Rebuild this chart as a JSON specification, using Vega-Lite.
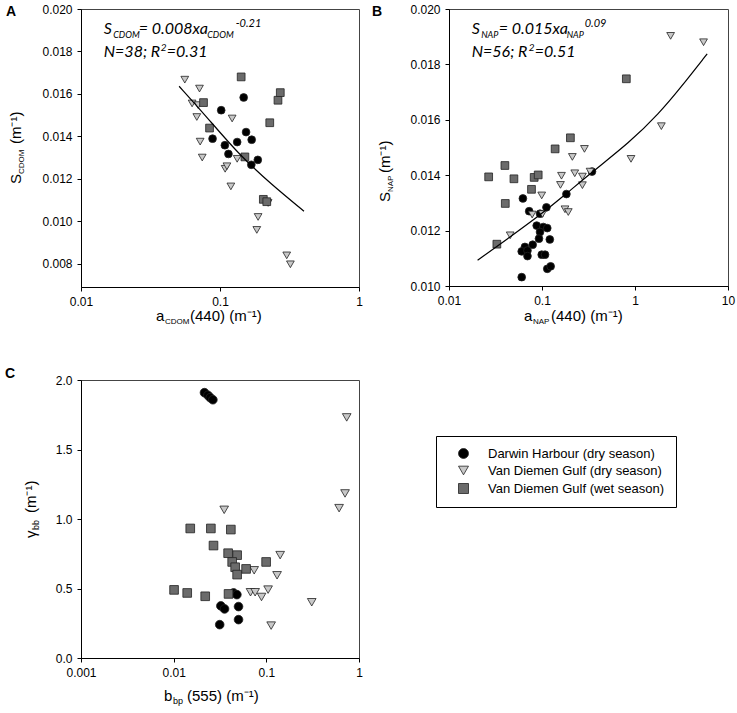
{
  "$schema": "https://vega.github.io/schema/vega-lite/v6.json",
  "background": "white",
  "padding": {"left": 4, "top": 2, "right": 0, "bottom": 0},
  "spacing": 39,
  "datasets": {
    "a": [
      {"x": 0.102, "y": 0.01523, "site": "Darwin Harbour (dry season)"},
      {"x": 0.148, "y": 0.01583, "site": "Darwin Harbour (dry season)"},
      {"x": 0.0884, "y": 0.01389, "site": "Darwin Harbour (dry season)"},
      {"x": 0.1084, "y": 0.01358, "site": "Darwin Harbour (dry season)"},
      {"x": 0.115, "y": 0.01317, "site": "Darwin Harbour (dry season)"},
      {"x": 0.1329, "y": 0.01373, "site": "Darwin Harbour (dry season)"},
      {"x": 0.154, "y": 0.0142, "site": "Darwin Harbour (dry season)"},
      {"x": 0.169, "y": 0.01384, "site": "Darwin Harbour (dry season)"},
      {"x": 0.168, "y": 0.01266, "site": "Darwin Harbour (dry season)"},
      {"x": 0.187, "y": 0.01289, "site": "Darwin Harbour (dry season)"},
      {"x": 0.0558, "y": 0.01667, "site": "Van Diemen Gulf (dry season)"},
      {"x": 0.0712, "y": 0.01625, "site": "Van Diemen Gulf (dry season)"},
      {"x": 0.063, "y": 0.01555, "site": "Van Diemen Gulf (dry season)"},
      {"x": 0.0697, "y": 0.01547, "site": "Van Diemen Gulf (dry season)"},
      {"x": 0.0681, "y": 0.01491, "site": "Van Diemen Gulf (dry season)"},
      {"x": 0.072, "y": 0.01375, "site": "Van Diemen Gulf (dry season)"},
      {"x": 0.0745, "y": 0.013, "site": "Van Diemen Gulf (dry season)"},
      {"x": 0.1223, "y": 0.01484, "site": "Van Diemen Gulf (dry season)"},
      {"x": 0.1089, "y": 0.01247, "site": "Van Diemen Gulf (dry season)"},
      {"x": 0.1122, "y": 0.01259, "site": "Van Diemen Gulf (dry season)"},
      {"x": 0.1197, "y": 0.01164, "site": "Van Diemen Gulf (dry season)"},
      {"x": 0.1329, "y": 0.01294, "site": "Van Diemen Gulf (dry season)"},
      {"x": 0.188, "y": 0.0102, "site": "Van Diemen Gulf (dry season)"},
      {"x": 0.184, "y": 0.00959, "site": "Van Diemen Gulf (dry season)"},
      {"x": 0.222, "y": 0.01086, "site": "Van Diemen Gulf (dry season)"},
      {"x": 0.302, "y": 0.00839, "site": "Van Diemen Gulf (dry season)"},
      {"x": 0.321, "y": 0.00797, "site": "Van Diemen Gulf (dry season)"},
      {"x": 0.142, "y": 0.0168, "site": "Van Diemen Gulf (wet season)"},
      {"x": 0.0761, "y": 0.01559, "site": "Van Diemen Gulf (wet season)"},
      {"x": 0.0841, "y": 0.01439, "site": "Van Diemen Gulf (wet season)"},
      {"x": 0.151, "y": 0.01303, "site": "Van Diemen Gulf (wet season)"},
      {"x": 0.205, "y": 0.01103, "site": "Van Diemen Gulf (wet season)"},
      {"x": 0.217, "y": 0.01092, "site": "Van Diemen Gulf (wet season)"},
      {"x": 0.228, "y": 0.01464, "site": "Van Diemen Gulf (wet season)"},
      {"x": 0.2613, "y": 0.0157, "site": "Van Diemen Gulf (wet season)"},
      {"x": 0.2715, "y": 0.01606, "site": "Van Diemen Gulf (wet season)"}
    ],
    "fitA": [
      {"x": 0.0508, "y": 0.01636},
      {"x": 0.0782, "y": 0.0150},
      {"x": 0.1358, "y": 0.01316},
      {"x": 0.2355, "y": 0.01172},
      {"x": 0.402, "y": 0.01047}
    ],
    "b": [
      {"x": 0.0623, "y": 0.01316, "site": "Darwin Harbour (dry season)"},
      {"x": 0.0728, "y": 0.0127, "site": "Darwin Harbour (dry season)"},
      {"x": 0.0952, "y": 0.01261, "site": "Darwin Harbour (dry season)"},
      {"x": 0.1116, "y": 0.01284, "site": "Darwin Harbour (dry season)"},
      {"x": 0.183, "y": 0.01332, "site": "Darwin Harbour (dry season)"},
      {"x": 0.345, "y": 0.01413, "site": "Darwin Harbour (dry season)"},
      {"x": 0.0877, "y": 0.01218, "site": "Darwin Harbour (dry season)"},
      {"x": 0.1034, "y": 0.01213, "site": "Darwin Harbour (dry season)"},
      {"x": 0.1139, "y": 0.01209, "site": "Darwin Harbour (dry season)"},
      {"x": 0.0952, "y": 0.01195, "site": "Darwin Harbour (dry season)"},
      {"x": 0.0928, "y": 0.01171, "site": "Darwin Harbour (dry season)"},
      {"x": 0.0794, "y": 0.01149, "site": "Darwin Harbour (dry season)"},
      {"x": 0.0655, "y": 0.01141, "site": "Darwin Harbour (dry season)"},
      {"x": 0.0605, "y": 0.01125, "site": "Darwin Harbour (dry season)"},
      {"x": 0.0698, "y": 0.01128, "site": "Darwin Harbour (dry season)"},
      {"x": 0.0698, "y": 0.01108, "site": "Darwin Harbour (dry season)"},
      {"x": 0.0993, "y": 0.01113, "site": "Darwin Harbour (dry season)"},
      {"x": 0.1078, "y": 0.01113, "site": "Darwin Harbour (dry season)"},
      {"x": 0.1213, "y": 0.01168, "site": "Darwin Harbour (dry season)"},
      {"x": 0.1139, "y": 0.01062, "site": "Darwin Harbour (dry season)"},
      {"x": 0.1239, "y": 0.01071, "site": "Darwin Harbour (dry season)"},
      {"x": 0.0605, "y": 0.01032, "site": "Darwin Harbour (dry season)"},
      {"x": 2.415, "y": 0.01903, "site": "Van Diemen Gulf (dry season)"},
      {"x": 5.46, "y": 0.0188, "site": "Van Diemen Gulf (dry season)"},
      {"x": 1.92, "y": 0.01577, "site": "Van Diemen Gulf (dry season)"},
      {"x": 0.906, "y": 0.01459, "site": "Van Diemen Gulf (dry season)"},
      {"x": 0.286, "y": 0.01495, "site": "Van Diemen Gulf (dry season)"},
      {"x": 0.212, "y": 0.01466, "site": "Van Diemen Gulf (dry season)"},
      {"x": 0.225, "y": 0.01407, "site": "Van Diemen Gulf (dry season)"},
      {"x": 0.162, "y": 0.01398, "site": "Van Diemen Gulf (dry season)"},
      {"x": 0.158, "y": 0.01365, "site": "Van Diemen Gulf (dry season)"},
      {"x": 0.272, "y": 0.01395, "site": "Van Diemen Gulf (dry season)"},
      {"x": 0.272, "y": 0.01364, "site": "Van Diemen Gulf (dry season)"},
      {"x": 0.329, "y": 0.01413, "site": "Van Diemen Gulf (dry season)"},
      {"x": 0.0993, "y": 0.01327, "site": "Van Diemen Gulf (dry season)"},
      {"x": 0.0784, "y": 0.01258, "site": "Van Diemen Gulf (dry season)"},
      {"x": 0.1767, "y": 0.01277, "site": "Van Diemen Gulf (dry season)"},
      {"x": 0.1917, "y": 0.01267, "site": "Van Diemen Gulf (dry season)"},
      {"x": 0.1012, "y": 0.0126, "site": "Van Diemen Gulf (dry season)"},
      {"x": 0.0455, "y": 0.01183, "site": "Van Diemen Gulf (dry season)"},
      {"x": 0.0267, "y": 0.01394, "site": "Van Diemen Gulf (wet season)"},
      {"x": 0.0399, "y": 0.01435, "site": "Van Diemen Gulf (wet season)"},
      {"x": 0.0499, "y": 0.01387, "site": "Van Diemen Gulf (wet season)"},
      {"x": 0.0403, "y": 0.01298, "site": "Van Diemen Gulf (wet season)"},
      {"x": 0.0824, "y": 0.01392, "site": "Van Diemen Gulf (wet season)"},
      {"x": 0.091, "y": 0.01401, "site": "Van Diemen Gulf (wet season)"},
      {"x": 0.0771, "y": 0.01349, "site": "Van Diemen Gulf (wet season)"},
      {"x": 0.0327, "y": 0.01151, "site": "Van Diemen Gulf (wet season)"},
      {"x": 0.1384, "y": 0.01495, "site": "Van Diemen Gulf (wet season)"},
      {"x": 0.202, "y": 0.01535, "site": "Van Diemen Gulf (wet season)"},
      {"x": 0.807, "y": 0.01748, "site": "Van Diemen Gulf (wet season)"}
    ],
    "fitB": [
      {"x": 0.0203, "y": 0.01093},
      {"x": 0.0416, "y": 0.01168},
      {"x": 0.0946, "y": 0.01255},
      {"x": 0.183, "y": 0.01333},
      {"x": 0.34, "y": 0.0141},
      {"x": 0.875, "y": 0.01518},
      {"x": 1.836, "y": 0.01625},
      {"x": 3.01, "y": 0.01711},
      {"x": 5.97, "y": 0.01838}
    ],
    "c": [
      {"x": 0.0215, "y": 1.909, "site": "Darwin Harbour (dry season)"},
      {"x": 0.0234, "y": 1.89, "site": "Darwin Harbour (dry season)"},
      {"x": 0.0248, "y": 1.873, "site": "Darwin Harbour (dry season)"},
      {"x": 0.0265, "y": 1.858, "site": "Darwin Harbour (dry season)"},
      {"x": 0.0443, "y": 0.468, "site": "Darwin Harbour (dry season)"},
      {"x": 0.0481, "y": 0.456, "site": "Darwin Harbour (dry season)"},
      {"x": 0.0323, "y": 0.375, "site": "Darwin Harbour (dry season)"},
      {"x": 0.0354, "y": 0.353, "site": "Darwin Harbour (dry season)"},
      {"x": 0.0501, "y": 0.37, "site": "Darwin Harbour (dry season)"},
      {"x": 0.0314, "y": 0.24, "site": "Darwin Harbour (dry season)"},
      {"x": 0.0501, "y": 0.276, "site": "Darwin Harbour (dry season)"},
      {"x": 0.0351, "y": 1.066, "site": "Van Diemen Gulf (dry season)"},
      {"x": 0.737, "y": 1.731, "site": "Van Diemen Gulf (dry season)"},
      {"x": 0.707, "y": 1.184, "site": "Van Diemen Gulf (dry season)"},
      {"x": 0.61, "y": 1.078, "site": "Van Diemen Gulf (dry season)"},
      {"x": 0.141, "y": 0.74, "site": "Van Diemen Gulf (dry season)"},
      {"x": 0.0739, "y": 0.631, "site": "Van Diemen Gulf (dry season)"},
      {"x": 0.1306, "y": 0.595, "site": "Van Diemen Gulf (dry season)"},
      {"x": 0.0675, "y": 0.473, "site": "Van Diemen Gulf (dry season)"},
      {"x": 0.0757, "y": 0.473, "site": "Van Diemen Gulf (dry season)"},
      {"x": 0.1045, "y": 0.492, "site": "Van Diemen Gulf (dry season)"},
      {"x": 0.0887, "y": 0.439, "site": "Van Diemen Gulf (dry season)"},
      {"x": 0.309, "y": 0.401, "site": "Van Diemen Gulf (dry season)"},
      {"x": 0.1127, "y": 0.233, "site": "Van Diemen Gulf (dry season)"},
      {"x": 0.0151, "y": 0.932, "site": "Van Diemen Gulf (wet season)"},
      {"x": 0.0252, "y": 0.932, "site": "Van Diemen Gulf (wet season)"},
      {"x": 0.0414, "y": 0.924, "site": "Van Diemen Gulf (wet season)"},
      {"x": 0.0269, "y": 0.809, "site": "Van Diemen Gulf (wet season)"},
      {"x": 0.0387, "y": 0.754, "site": "Van Diemen Gulf (wet season)"},
      {"x": 0.0484, "y": 0.74, "site": "Van Diemen Gulf (wet season)"},
      {"x": 0.0428, "y": 0.691, "site": "Van Diemen Gulf (wet season)"},
      {"x": 0.0461, "y": 0.653, "site": "Van Diemen Gulf (wet season)"},
      {"x": 0.0484, "y": 0.6, "site": "Van Diemen Gulf (wet season)"},
      {"x": 0.0605, "y": 0.641, "site": "Van Diemen Gulf (wet season)"},
      {"x": 0.0995, "y": 0.691, "site": "Van Diemen Gulf (wet season)"},
      {"x": 0.0101, "y": 0.49, "site": "Van Diemen Gulf (wet season)"},
      {"x": 0.014, "y": 0.468, "site": "Van Diemen Gulf (wet season)"},
      {"x": 0.0219, "y": 0.444, "site": "Van Diemen Gulf (wet season)"},
      {"x": 0.0391, "y": 0.461, "site": "Van Diemen Gulf (wet season)"}
    ]
  },
  "vconcat": [
    {
      "hconcat": [
        {
          "width": 278,
          "height": 278,
          "layer": [
            {
              "data": {"name": "a"},
              "mark": {"type": "point", "filled": true, "size": 60, "stroke": "#222", "strokeWidth": 0.8, "opacity": 1},
              "encoding": {
                "x": {"field": "x", "type": "quantitative", "title": null, "scale": {"type": "log", "domain": [0.01, 1]},
                  "axis": {"title": null, "values": [0.01, 0.1, 1], "format": "~g", "labelPadding": 5}},
                "y": {"field": "y", "type": "quantitative", "title": null, "scale": {"domain": [0.0069, 0.02], "zero": false, "nice": false},
                  "axis": {"title": null, "values": [0.008, 0.01, 0.012, 0.014, 0.016, 0.018, 0.02], "format": ".3f"}},
                "shape": {"field": "site", "type": "nominal", "scale": {"domain": ["Darwin Harbour (dry season)", "Van Diemen Gulf (dry season)", "Van Diemen Gulf (wet season)"], "range": ["circle", "triangle-down", "square"]}, "legend": null},
                "color": {"field": "site", "type": "nominal", "scale": {"domain": ["Darwin Harbour (dry season)", "Van Diemen Gulf (dry season)", "Van Diemen Gulf (wet season)"], "range": ["#000000", "#c8c8c8", "#6b6b6b"]}, "legend": null}
              }
            },
            {
              "data": {"name": "fitA"},
              "mark": {"type": "line", "color": "#000", "strokeWidth": 1.2, "interpolate": "basis"},
              "encoding": {
                "x": {"field": "x", "type": "quantitative", "title": null, "scale": {"type": "log", "domain": [0.01, 1]}},
                "y": {"field": "y", "type": "quantitative", "title": null, "scale": {"domain": [0.0069, 0.02], "zero": false, "nice": false}}
              }
            },
            {
              "data": {"values": [{}]},
              "encoding": {
                "x": {"datum": 0.002887, "type": "quantitative", "title": null, "scale": {"type": "log", "domain": [0.01, 1]}},
                "y": {"datum": 0.01967, "type": "quantitative", "title": null, "scale": {"domain": [0.0069, 0.02], "zero": false, "nice": false}}
              },
              "mark": {"type": "text", "text": "A", "fontSize": 14, "fontWeight": "bold"}
            },
            {
              "data": {"values": [{}]},
              "encoding": {
                "x": {"datum": 0.003701, "type": "quantitative", "title": null, "scale": {"type": "log", "domain": [0.01, 1]}},
                "y": {"datum": 0.011753, "type": "quantitative", "title": null, "scale": {"domain": [0.0069, 0.02], "zero": false, "nice": false}}
              },
              "layer": [
                {"mark": {"type": "text", "text": "S", "angle": 270}},
                {"mark": {"type": "text", "text": "CDOM", "angle": 270, "fontSize": 8, "dx": 10, "dy": 3}},
                {"mark": {"type": "text", "text": "(m⁻¹)", "angle": 270, "dx": 40}}
              ]
            },
            {
              "data": {"values": [{}]},
              "encoding": {
                "x": {"datum": 0.03464, "type": "quantitative", "title": null, "scale": {"type": "log", "domain": [0.01, 1]}},
                "y": {"datum": 0.005298, "type": "quantitative", "title": null, "scale": {"domain": [0.0069, 0.02], "zero": false, "nice": false}}
              },
              "layer": [
                {"mark": {"type": "text", "text": "a"}},
                {"mark": {"type": "text", "text": "CDOM", "fontSize": 8, "dx": 9, "dy": 3}},
                {"mark": {"type": "text", "text": "(440) (m⁻¹)", "dx": 34}}
              ]
            },
            {
              "data": {"values": [{}]},
              "encoding": {
                "x": {"datum": 0.01457, "type": "quantitative", "title": null, "scale": {"type": "log", "domain": [0.01, 1]}},
                "y": {"datum": 0.018822, "type": "quantitative", "title": null, "scale": {"domain": [0.0069, 0.02], "zero": false, "nice": false}}
              },
              "layer": [
                {"mark": {"type": "text", "text": "S", "font": "Lato", "fontStyle": "italic", "fontSize": 16}},
                {"mark": {"type": "text", "text": "CDOM", "font": "Lato", "fontStyle": "italic", "fontSize": 9, "dx": 9.5, "dy": 4}},
                {"mark": {"type": "text", "text": "= 0.008xa", "font": "Lato", "fontStyle": "italic", "fontSize": 16, "dx": 35}},
                {"mark": {"type": "text", "text": "CDOM", "font": "Lato", "fontStyle": "italic", "fontSize": 9, "dx": 103.5, "dy": 4}},
                {"mark": {"type": "text", "text": "-0.21", "font": "Lato", "fontStyle": "italic", "fontSize": 11, "dx": 132, "dy": -7}}
              ]
            },
            {
              "data": {"values": [{}]},
              "encoding": {
                "x": {"datum": 0.01457, "type": "quantitative", "title": null, "scale": {"type": "log", "domain": [0.01, 1]}},
                "y": {"datum": 0.017738, "type": "quantitative", "title": null, "scale": {"domain": [0.0069, 0.02], "zero": false, "nice": false}}
              },
              "layer": [
                {"mark": {"type": "text", "text": "N=38; R", "font": "Lato", "fontStyle": "italic", "fontSize": 16}},
                {"mark": {"type": "text", "text": "2", "font": "Lato", "fontStyle": "italic", "fontSize": 10, "dx": 57, "dy": -6}},
                {"mark": {"type": "text", "text": "=0.31", "font": "Lato", "fontStyle": "italic", "fontSize": 16, "dx": 63}}
              ]
            }
          ]
        },
        {
          "width": 279,
          "height": 277,
          "layer": [
            {
              "data": {"name": "b"},
              "mark": {"type": "point", "filled": true, "size": 60, "stroke": "#222", "strokeWidth": 0.8, "opacity": 1},
              "encoding": {
                "x": {"field": "x", "type": "quantitative", "title": null, "scale": {"type": "log", "domain": [0.01, 10]},
                  "axis": {"title": null, "values": [0.01, 0.1, 1, 10], "format": "~g", "labelPadding": 5}},
                "y": {"field": "y", "type": "quantitative", "title": null, "scale": {"domain": [0.01, 0.02], "zero": false, "nice": false},
                  "axis": {"title": null, "values": [0.01, 0.012, 0.014, 0.016, 0.018, 0.02], "format": ".3f"}},
                "shape": {"field": "site", "type": "nominal", "scale": {"domain": ["Darwin Harbour (dry season)", "Van Diemen Gulf (dry season)", "Van Diemen Gulf (wet season)"], "range": ["circle", "triangle-down", "square"]}, "legend": null},
                "color": {"field": "site", "type": "nominal", "scale": {"domain": ["Darwin Harbour (dry season)", "Van Diemen Gulf (dry season)", "Van Diemen Gulf (wet season)"], "range": ["#000000", "#c8c8c8", "#6b6b6b"]}, "legend": null}
              }
            },
            {
              "data": {"name": "fitB"},
              "mark": {"type": "line", "color": "#000", "strokeWidth": 1.2, "interpolate": "basis"},
              "encoding": {
                "x": {"field": "x", "type": "quantitative", "title": null, "scale": {"type": "log", "domain": [0.01, 10]}},
                "y": {"field": "y", "type": "quantitative", "title": null, "scale": {"domain": [0.01, 0.02], "zero": false, "nice": false}}
              }
            },
            {
              "data": {"values": [{}]},
              "encoding": {
                "x": {"datum": 0.001486, "type": "quantitative", "title": null, "scale": {"type": "log", "domain": [0.01, 10]}},
                "y": {"datum": 0.019747, "type": "quantitative", "title": null, "scale": {"domain": [0.01, 0.02], "zero": false, "nice": false}}
              },
              "mark": {"type": "text", "text": "B", "fontSize": 14, "fontWeight": "bold"}
            },
            {
              "data": {"values": [{}]},
              "encoding": {
                "x": {"datum": 0.00232, "type": "quantitative", "title": null, "scale": {"type": "log", "domain": [0.01, 10]}},
                "y": {"datum": 0.013032, "type": "quantitative", "title": null, "scale": {"domain": [0.01, 0.02], "zero": false, "nice": false}}
              },
              "layer": [
                {"mark": {"type": "text", "text": "S", "angle": 270}},
                {"mark": {"type": "text", "text": "NAP", "angle": 270, "fontSize": 8, "dx": 10, "dy": 3}},
                {"mark": {"type": "text", "text": "(m⁻¹)", "angle": 270, "dx": 29}}
              ]
            },
            {
              "data": {"values": [{}]},
              "encoding": {
                "x": {"datum": 0.06402, "type": "quantitative", "title": null, "scale": {"type": "log", "domain": [0.01, 10]}},
                "y": {"datum": 0.008736, "type": "quantitative", "title": null, "scale": {"domain": [0.01, 0.02], "zero": false, "nice": false}}
              },
              "layer": [
                {"mark": {"type": "text", "text": "a"}},
                {"mark": {"type": "text", "text": "NAP", "fontSize": 8, "dx": 9, "dy": 3}},
                {"mark": {"type": "text", "text": "(440) (m⁻¹)", "dx": 27}}
              ]
            },
            {
              "data": {"values": [{}]},
              "encoding": {
                "x": {"datum": 0.01754, "type": "quantitative", "title": null, "scale": {"type": "log", "domain": [0.01, 10]}},
                "y": {"datum": 0.019097, "type": "quantitative", "title": null, "scale": {"domain": [0.01, 0.02], "zero": false, "nice": false}}
              },
              "layer": [
                {"mark": {"type": "text", "text": "S", "font": "Lato", "fontStyle": "italic", "fontSize": 16}},
                {"mark": {"type": "text", "text": "NAP", "font": "Lato", "fontStyle": "italic", "fontSize": 9, "dx": 9.5, "dy": 4}},
                {"mark": {"type": "text", "text": "= 0.015xa", "font": "Lato", "fontStyle": "italic", "fontSize": 16, "dx": 27}},
                {"mark": {"type": "text", "text": "NAP", "font": "Lato", "fontStyle": "italic", "fontSize": 9, "dx": 95, "dy": 4}},
                {"mark": {"type": "text", "text": "0.09", "font": "Lato", "fontStyle": "italic", "fontSize": 11, "dx": 113, "dy": -7}}
              ]
            },
            {
              "data": {"values": [{}]},
              "encoding": {
                "x": {"datum": 0.01754, "type": "quantitative", "title": null, "scale": {"type": "log", "domain": [0.01, 10]}},
                "y": {"datum": 0.018267, "type": "quantitative", "title": null, "scale": {"domain": [0.01, 0.02], "zero": false, "nice": false}}
              },
              "layer": [
                {"mark": {"type": "text", "text": "N=56; R", "font": "Lato", "fontStyle": "italic", "fontSize": 16}},
                {"mark": {"type": "text", "text": "2", "font": "Lato", "fontStyle": "italic", "fontSize": 10, "dx": 57, "dy": -6}},
                {"mark": {"type": "text", "text": "=0.51", "font": "Lato", "fontStyle": "italic", "fontSize": 16, "dx": 63}}
              ]
            }
          ]
        }
      ],
      "spacing": 8
    },
    {
      "width": 278,
      "height": 278,
      "layer": [
        {
          "data": {"name": "c"},
          "mark": {"type": "point", "filled": true, "size": 75, "stroke": "#222", "strokeWidth": 0.8, "opacity": 1},
          "encoding": {
            "x": {"field": "x", "type": "quantitative", "title": null, "scale": {"type": "log", "domain": [0.001, 1]},
              "axis": {"title": null, "values": [0.001, 0.01, 0.1, 1], "format": "~g", "labelPadding": 5}},
            "y": {"field": "y", "type": "quantitative", "title": null, "scale": {"domain": [0, 2], "nice": false},
              "axis": {"title": null, "values": [0, 0.5, 1, 1.5, 2], "format": ".1f"}},
            "shape": {"field": "site", "type": "nominal", "scale": {"domain": ["Darwin Harbour (dry season)", "Van Diemen Gulf (dry season)", "Van Diemen Gulf (wet season)"], "range": ["circle", "triangle-down", "square"]},
              "legend": {"orient": "none", "legendX": 355, "legendY": 56, "title": null, "strokeColor": "#000", "fillColor": "#fff", "padding": 11, "labelFontSize": 13, "labelLimit": 300, "symbolSize": 100, "symbolOffset": 10, "labelOffset": 18, "rowPadding": 3, "symbolStrokeColor": "#222", "symbolStrokeWidth": 0.8}},
            "color": {"field": "site", "type": "nominal", "scale": {"domain": ["Darwin Harbour (dry season)", "Van Diemen Gulf (dry season)", "Van Diemen Gulf (wet season)"], "range": ["#000000", "#c8c8c8", "#6b6b6b"]},
              "legend": {"orient": "none", "legendX": 355, "legendY": 56, "title": null, "strokeColor": "#000", "fillColor": "#fff", "padding": 11, "labelFontSize": 13, "labelLimit": 300, "symbolSize": 100, "symbolOffset": 10, "labelOffset": 18, "rowPadding": 3, "symbolStrokeColor": "#222", "symbolStrokeWidth": 0.8}}
          }
        },
        {
          "data": {"values": [{}]},
          "encoding": {
            "x": {"datum": 0.0001513, "type": "quantitative", "title": null, "scale": {"type": "log", "domain": [0.001, 1]}},
            "y": {"datum": 2.0144, "type": "quantitative", "title": null, "scale": {"domain": [0, 2], "nice": false}}
          },
          "mark": {"type": "text", "text": "C", "fontSize": 14, "fontWeight": "bold"}
        },
        {
          "data": {"values": [{}]},
          "encoding": {
            "x": {"datum": 0.0003269, "type": "quantitative", "title": null, "scale": {"type": "log", "domain": [0.001, 1]}},
            "y": {"datum": 0.8633, "type": "quantitative", "title": null, "scale": {"domain": [0, 2], "nice": false}}
          },
          "layer": [
            {"mark": {"type": "text", "text": "γ", "angle": 270}},
            {"mark": {"type": "text", "text": "bb", "angle": 270, "fontSize": 9, "dx": 8, "dy": 3}},
            {"mark": {"type": "text", "text": "(m⁻¹)", "angle": 270, "dx": 25}}
          ]
        },
        {
          "data": {"values": [{}]},
          "encoding": {
            "x": {"datum": 0.007863, "type": "quantitative", "title": null, "scale": {"type": "log", "domain": [0.001, 1]}},
            "y": {"datum": -0.3094, "type": "quantitative", "title": null, "scale": {"domain": [0, 2], "nice": false}}
          },
          "layer": [
            {"mark": {"type": "text", "text": "b"}},
            {"mark": {"type": "text", "text": "bp", "fontSize": 9, "dx": 9, "dy": 3}},
            {"mark": {"type": "text", "text": "(555) (m⁻¹)", "dx": 23}}
          ]
        }
      ]
    }
  ],
  "resolve": {
    "scale": {"color": "independent", "shape": "independent"},
    "legend": {"color": "independent", "shape": "independent"}
  },
  "config": {
    "font": "Liberation Sans",
    "view": {"stroke": "#444", "strokeWidth": 1},
    "axis": {
      "grid": false,
      "domainColor": "#000",
      "tickColor": "#000",
      "tickSize": 4,
      "labelColor": "#000",
      "labelFontSize": 12,
      "labelFont": "Liberation Sans",
      "labelFlush": false,
      "labelPadding": 5
    },
    "legend": {"labelFont": "Liberation Sans", "labelColor": "#000"},
    "text": {"font": "Liberation Sans", "fontSize": 15, "align": "left", "baseline": "alphabetic", "color": "#000"}
  }
}
